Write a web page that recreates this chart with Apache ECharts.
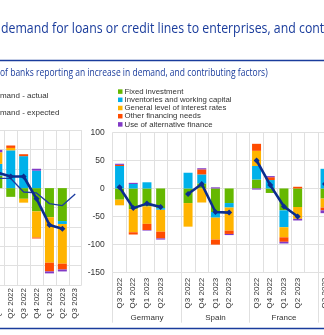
<!DOCTYPE html>
<html><head><meta charset="utf-8">
<script src="https://cdn.jsdelivr.net/npm/echarts@6/dist/echarts.min.js"></script>
<style>html,body{margin:0;padding:0;background:#fff}#c{width:324px;height:335px}</style>
</head><body><div id="c"></div>
<script>
// ---- data ----
const factorNames = ['Fixed investment','Inventories and working capital','General level of interest rates','Other financing needs','Use of alternative finance'];
const factorColors = ['#65b800','#00b1ea','#ffb400','#ff4b00','#8139c6'];

const euroCats = ['Q1 2022','Q2 2022','Q3 2022','Q4 2022','Q1 2023','Q2 2023','Q3 2023'];
const euroFixed    = [13, -9, -11, -24, -30, -34, null];
const euroInvent   = [12, 39, 33, 18, 0, -3, null];
const euroRates    = [12, 2.5, -4, -27, -47, -41, null];
const euroOther    = [0, 2.5, 2, -1, -9, -6, null];
const euroAlt      = [2.5, 0, 0, 2, -2, -2, null];
const euroActual   = [16, 12, 12, -11, -38, -42, null];
const euroExpected = [10, 10, -4, -5, -16, -18, -6];

const countries = ['Germany','Spain','France','Italy'];
const quarters = ['Q3 2022','Q4 2022','Q1 2023','Q2 2023',''];
const deFixed = [-20, -37, -32, -35, null], deInvent = [40, 8, 11, -3, null], deRates = [-10, -41, -31, -39, null], deOther = [2, -4, -11, -12, null], deAlt = [2, 2, -1, -2, null], deActual = [2, -35, -27, -33, null];
const esFixed = [-26, 9, -42, -26, null], esInvent = [28, 16, -10, -8, null], esRates = [-42, -25, -39, -41, null], esOther = [0, 9, -9, -6, null], esAlt = [0, 2, 2, -2, null], esActual = [-10, 8, -42, -43, null];
const frFixed = [16, -8, -39, -33, null], frInvent = [24, 15, -30, 0, null], frRates = [27, 0, -18, -21, null], frOther = [12.5, 5, -8, 3, null], frAlt = [-2, 2, -3, -3, null], frActual = [50, 6, -32, -50, null];
const itFixed = [-18, null, null, null, null], itInvent = [35, null, null, null, null], itRates = [-16, null, null, null, null], itOther = [-5, null, null, null, null], itAlt = [-5, null, null, null, null], itActual = [8, null, null, null, null];

// ---- build ----
const ctryCats = [].concat(...countries.map(() => quarters));
const ctryFactors = [
  [].concat(deFixed, esFixed, frFixed, itFixed),
  [].concat(deInvent, esInvent, frInvent, itInvent),
  [].concat(deRates, esRates, frRates, itRates),
  [].concat(deOther, esOther, frOther, itOther),
  [].concat(deAlt, esAlt, frAlt, itAlt)
];
const euroFactors = [euroFixed, euroInvent, euroRates, euroOther, euroAlt];
const ctryActual = [].concat(deActual, esActual, frActual, itActual);

const NAVY = '#0b2d8f';
const GRID = '#e0e0e0';
const SMALL = '"Liberation Sans", Arial, sans-serif';
const series = [];
factorNames.forEach((n, i) => {
  series.push({type:'bar', name:n, xAxisIndex:0, yAxisIndex:0, stack:'e', barWidth:9, data:euroFactors[i], itemStyle:{color:factorColors[i]}, animation:false});
  series.push({type:'bar', name:n, xAxisIndex:1, yAxisIndex:1, stack:'c', barWidth:9, data:ctryFactors[i], itemStyle:{color:factorColors[i]}, animation:false});
});
series.push({type:'line', name:'demand - expected', xAxisIndex:0, yAxisIndex:0, data:euroExpected, symbol:'none', lineStyle:{color:'#1d3da0', width:1.3}, z:5, animation:false});
series.push({type:'line', name:'demand - actual', xAxisIndex:0, yAxisIndex:0, data:euroActual, symbol:'diamond', symbolSize:6, itemStyle:{color:NAVY}, lineStyle:{color:NAVY, width:2.6}, z:6, animation:false});
series.push({type:'line', name:'demand - actual (countries)', xAxisIndex:1, yAxisIndex:1, data:ctryActual, symbol:'diamond', symbolSize:6, connectNulls:false, itemStyle:{color:NAVY}, lineStyle:{color:NAVY, width:2.6}, z:6, animation:false});

const catAxis = (gi, data, margin) => ({
  type:'category', gridIndex:gi, data:data, boundaryGap:true,
  axisLine:{show:false, onZero:false}, axisTick:{show:false},
  axisLabel:{rotate:90, interval:0, fontSize:8, fontFamily:SMALL, color:'#333', margin:margin},
  splitLine:{show:true, interval:0, lineStyle:{color:GRID, width:1}}
});

const chart = echarts.init(document.getElementById('c'), null, {renderer:'canvas'});
chart.setOption({
  animation:false,
  backgroundColor:'#fff',
  grid:[
    {left:-8.6, top:130, width:90.3, height:155, outerBoundsMode:'none', containLabel:false},
    {left:112.7, top:132.3, width:274, height:140.4, outerBoundsMode:'none', containLabel:false}
  ],
  xAxis:[
    catAxis(0, euroCats, 3),
    catAxis(1, ctryCats, 5),
    {type:'category', gridIndex:1, data:countries, boundaryGap:true, position:'bottom',
     axisLine:{show:false, onZero:false}, axisTick:{show:true, interval:0, length:50, lineStyle:{color:GRID}},
     axisLabel:{interval:0, fontSize:8, fontFamily:SMALL, color:'#333', margin:41}, splitLine:{show:false}}
  ],
  yAxis:[
    {type:'value', gridIndex:0, min:-100, max:60, interval:20, axisLabel:{show:false}, axisLine:{show:false}, axisTick:{show:false}, splitLine:{lineStyle:{color:GRID}}},
    {type:'value', gridIndex:1, min:-150, max:100, interval:50, axisLabel:{fontSize:8.5, fontFamily:SMALL, color:'#333', margin:8}, axisLine:{show:false}, axisTick:{show:false}, splitLine:{lineStyle:{color:GRID}}}
  ],
  legend:{data:factorNames, orient:'vertical', left:118, top:87.5, itemWidth:4.5, itemHeight:4.5, itemGap:0, padding:0, icon:'rect',
    textStyle:{fontSize:7.8, fontFamily:SMALL, color:'#333', lineHeight:8.2, padding:[0,0,0,-3]}},
  graphic:[
    {type:'text', left:1, top:22, scaleX:0.88, style:{text:'demand for loans or credit lines to enterprises, and contributing factors', font:'14px "Open Sans"', fill:'#1a3c9c'}},
    {type:'line', shape:{x1:0, y1:60.5, x2:324, y2:60.5}, style:{stroke:'#1a3c9c', lineWidth:1.5}},
    {type:'text', left:0, top:68, scaleX:0.85, style:{text:'of banks reporting an increase in demand, and contributing factors)', font:'10px "Open Sans"', fill:'#1a3c9c'}},
    {type:'text', x:-9, y:92, style:{text:'demand - actual', font:'8px "Liberation Sans"', fill:'#333'}},
    {type:'text', x:-9, y:109, style:{text:'demand - expected', font:'8px "Liberation Sans"', fill:'#333'}},
    {type:'line', shape:{x1:0, y1:328.5, x2:324, y2:328.5}, style:{stroke:'#1a3c9c', lineWidth:1.5}}
  ],
  series:series
});
</script></body></html>
